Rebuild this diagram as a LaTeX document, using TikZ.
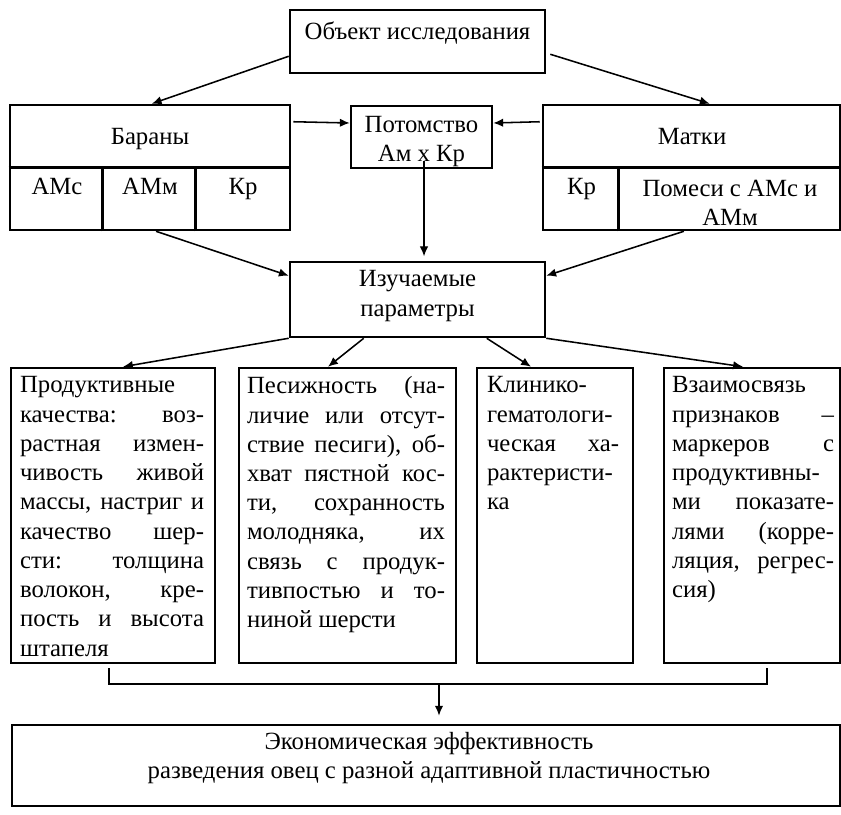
\documentclass[tikz,border=0pt]{standalone}
\usepackage{fontspec}
\setmainfont{Liberation Serif}
\usetikzlibrary{arrows.meta,calc}

\begin{document}
\begin{tikzpicture}[
    box/.style={draw, line width=1.8pt, inner sep=0pt},
    arr/.style={line width=1.1pt, -{Latex[length=7pt,width=6pt]}},
    txt/.style={inner sep=0pt, font=\fontsize{17.6}{20.8}\selectfont},
    para/.style={txt, align=justify, anchor=north west}]
    \useasboundingbox (0,0) rectangle (21.025,-20.35);

    % object
    \node[box, minimum width=6.375cm, minimum height=1.575cm] (obj) at (10.4375,-1.0375) {};
    \node[txt] (objt) at ($(obj.north)+(0,-0.6)$) {Объект исследования};

    % rams, offspring, ewes
    \node[box, minimum width=7cm, minimum height=3.125cm] (bar) at (3.75,-4.1875) {};
    \draw[line width=1.8pt] (bar.west) -- (bar.east);
    \draw[line width=1.8pt] ($(bar.south west)+(2.35,0)$) -- ($(bar.west)+(2.35,0)$);
    \draw[line width=1.8pt] ($(bar.south west)+(4.675,0)$) -- ($(bar.west)+(4.675,0)$);
    \node[txt, anchor=base] (bart) at (3.75,-3.62) {Бараны};
    \node[txt, anchor=base] (ams) at (1.425,-4.85) {АМс};
    \node[txt, anchor=base] (amm) at (3.75,-4.85) {АМм};
    \node[txt, anchor=base] (kr1) at (6.075,-4.85) {Кр};

    \node[box, minimum width=3.525cm, minimum height=1.55cm] (pot) at (10.5375,-3.425) {};
    \node[txt, align=center] (pott) at (10.5375,-3.53) {Потомство\\Ам х Кр};

    \node[box, minimum width=7.425cm, minimum height=3.125cm] (mat) at (17.2875,-4.1875) {};
    \draw[line width=1.8pt] (mat.west) -- (mat.east);
    \draw[line width=1.8pt] ($(mat.south west)+(1.925,0)$) -- ($(mat.west)+(1.925,0)$);
    \node[txt, anchor=base] (matt) at (17.3,-3.62) {Матки};
    \node[txt, anchor=base] (kr2) at (14.54,-4.85) {Кр};
    \node[txt, align=center] (pom) at (18.25,-5.07) {Помеси с АМс и\\АМм};

    % parameters
    \node[box, minimum width=6.375cm, minimum height=1.875cm] (izu) at (10.4375,-7.4875) {};
    \node[txt, align=center] (izut) at (10.4375,-7.4) {Изучаемые\\параметры};

    % four groups
    \node[box, minimum width=5.1cm, minimum height=7.375cm] (prod) at (2.825,-12.8875) {};
    \node[box, minimum width=5.425cm, minimum height=7.375cm] (pes) at (8.6875,-12.8875) {};
    \node[box, minimum width=3.9cm, minimum height=7.375cm] (klin) at (13.875,-12.8875) {};
    \node[box, minimum width=4.4cm, minimum height=7.375cm] (vzai) at (18.8,-12.8875) {};

    \node[para, text width=4.6cm] (prodt) at ($(prod.north west)+(0.25,-0.24)$)
        {Продуктивные\linebreak качества: воз-\linebreak растная измен-\linebreak
         чивость живой\linebreak массы, настриг и\linebreak качество шер-\linebreak
         сти: толщина\linebreak волокон, кре-\linebreak пость и высота\linebreak штапеля};
    \node[para, text width=4.95cm] (pest) at ($(pes.north west)+(0.225,-0.24)$)
        {Песижность (на-\linebreak личие или отсут-\linebreak ствие песиги), об-\linebreak
         хват пястной кос-\linebreak ти, сохранность\linebreak молодняка, их\linebreak
         связь с продук-\linebreak тивпостью и то-\linebreak ниной шерсти};
    \node[para, text width=3.3cm] (klint) at ($(klin.north west)+(0.275,-0.24)$)
        {Клинико-\linebreak гематологи-\linebreak ческая ха-\linebreak рактеристи-\linebreak ка};
    \node[para, text width=4.05cm] (vzait) at ($(vzai.north west)+(0.225,-0.24)$)
        {Взаимосвязь\linebreak признаков –\linebreak маркеров с\linebreak
         продуктивны-\linebreak ми показате-\linebreak лями (корре-\linebreak
         ляция, регрес-\linebreak сия)};

    % result
    \node[box, minimum width=20.7cm, minimum height=2.025cm] (eco) at (10.65,-19.1375) {};
    \node[txt, align=center] (ecot) at (10.725,-18.95)
        {Экономическая эффективность\\разведения овец с разной адаптивной пластичностью};

    % arrows
    \draw[arr] ($(obj.south west)+(0,0.45)$) -- ($(bar.north west)+(3.575,0)$);
    \draw[arr] ($(obj.south east)+(0.1,0.5)$) -- ($(mat.north west)+(4.2,0)$);
    \draw[arr] ($(bar.north east)+(0.05,-0.45)$) -- ($(pot.west)+(0,0.35)$);
    \draw[arr] ($(mat.north west)+(-0.05,-0.45)$) -- ($(pot.east)+(0,0.35)$);
    \draw[line width=0.8pt, -{Latex[length=7pt,width=6pt]}]
        ($(pot.south)+(0.0625,0.2)$) -- ($(pot.south)+(0.0625,-2.175)$);
    \draw[arr] ($(bar.south)+(0.15,0)$) -- ($(izu.north west)+(0,-0.375)$);
    \draw[arr] ($(mat.south)+(-0.19,0)$) -- ($(izu.north east)+(0,-0.375)$);
    \draw[arr] (izu.south west) -- ($(prod.north)+(0.25,0)$);
    \draw[arr] ($(izu.south west)+(1.875,0)$) -- ($(pes.north)+(-0.4875,0)$);
    \draw[arr] ($(izu.south west)+(4.95,0)$) -- ($(klin.north)+(-0.6,0)$);
    \draw[arr] (izu.south east) -- ($(vzai.north)+(-0.225,0)$);

    % bracket
    \coordinate (brl) at ($(prod.south)+(-0.1,-0.1)$);
    \coordinate (brr) at ($(vzai.south)+(0.375,-0.1)$);
    \coordinate (brm) at (10.975,-17.075);
    \draw[line width=1.4pt] (brl) -- ++(0,-0.4) -| (brr);
    \draw[arr] (brm) -- ($(brm |- eco.north)+(0,0.2)$);
\end{tikzpicture}
\end{document}
